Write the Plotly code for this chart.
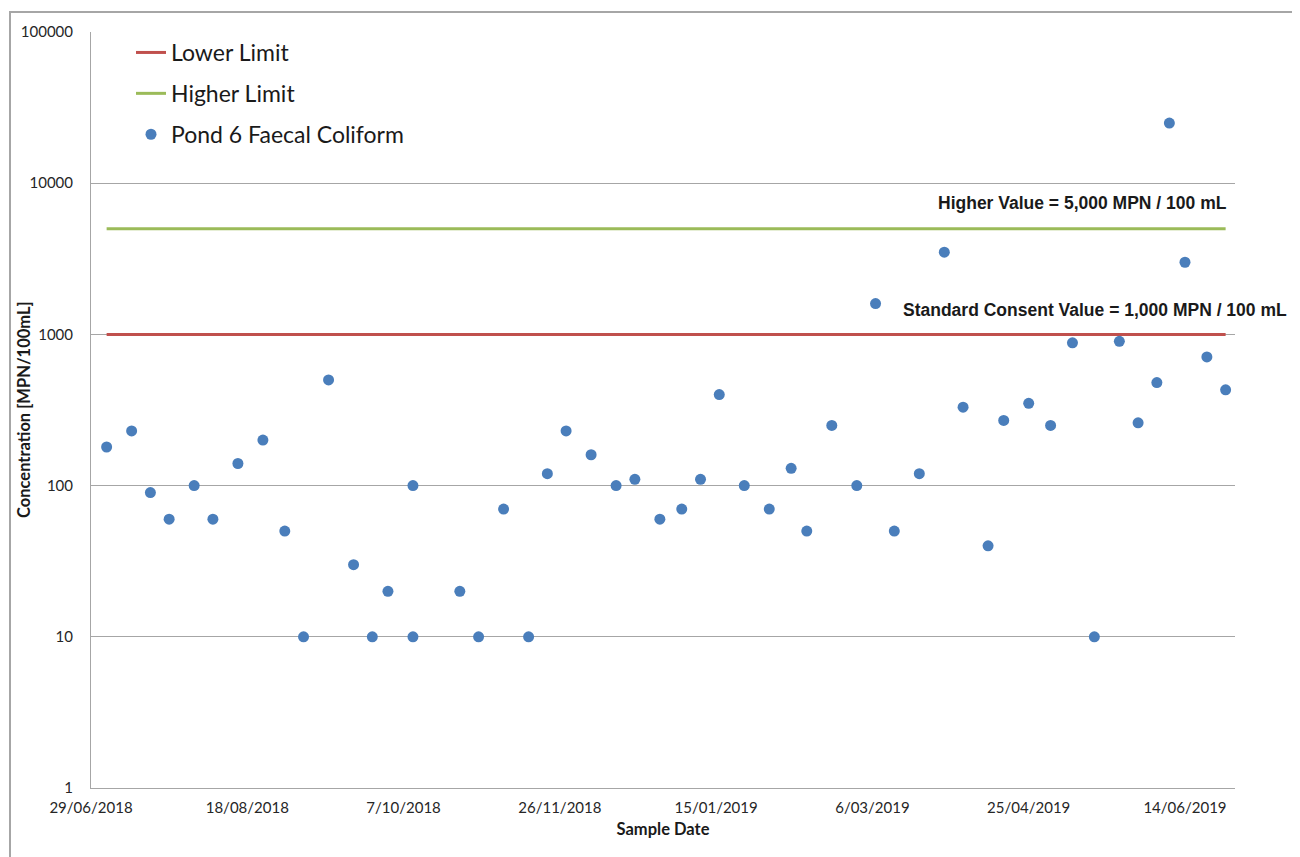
import plotly.graph_objects as go

# ---- data ----
sample_dates = [
    "2018-07-04", "2018-07-12", "2018-07-18", "2018-07-24", "2018-08-01", "2018-08-07",
    "2018-08-15", "2018-08-23", "2018-08-30", "2018-09-05", "2018-09-13", "2018-09-21",
    "2018-09-27", "2018-10-02", "2018-10-10", "2018-10-10", "2018-10-25", "2018-10-31",
    "2018-11-08", "2018-11-16", "2018-11-22", "2018-11-28", "2018-12-06", "2018-12-14",
    "2018-12-20", "2018-12-28", "2019-01-04", "2019-01-10", "2019-01-16", "2019-01-24",
    "2019-02-01", "2019-02-08", "2019-02-13", "2019-02-21", "2019-03-01", "2019-03-07",
    "2019-03-13", "2019-03-21", "2019-03-29", "2019-04-04", "2019-04-12", "2019-04-17",
    "2019-04-25", "2019-05-02", "2019-05-09", "2019-05-16", "2019-05-24", "2019-05-30",
    "2019-06-05", "2019-06-09", "2019-06-14", "2019-06-21", "2019-06-27",
]
coliform = [
    180, 230, 90, 60, 100, 60,
    140, 200, 50, 10, 500, 30,
    10, 20, 100, 10, 20, 10,
    70, 10, 120, 230, 160, 100,
    110, 60, 70, 110, 400, 100,
    70, 130, 50, 250, 100, 1600,
    50, 120, 3500, 330, 40, 270,
    350, 250, 880, 10, 900, 260,
    480, 25000, 3000, 710, 430,
]
limit_dates = ["2018-07-04", "2019-06-27"]
lower_limit = [1000, 1000]
higher_limit = [5000, 5000]

x_tick_vals = ["2018-06-29", "2018-08-18", "2018-10-07", "2018-11-26",
               "2019-01-15", "2019-03-06", "2019-04-25", "2019-06-14"]
x_tick_text = ["29/06/2018", "18/08/2018", "7/10/2018", "26/11/2018",
               "15/01/2019", "6/03/2019", "25/04/2019", "14/06/2019"]
y_tick_vals = [1, 10, 100, 1000, 10000, 100000]
y_tick_text = ["1", "10", "100", "1000", "10000", "100000"]

RED = "#c0504d"
GREEN = "#9bbb59"
BLUE = "#4a7ebb"
GRID = "#a6a6a6"
FONT = "Lato, 'Open Sans', sans-serif"
ARIAL = "'Liberation Sans', Arial, sans-serif"

fig = go.Figure()
fig.add_trace(go.Scatter(x=limit_dates, y=lower_limit, mode="lines", name="Lower Limit",
                         line=dict(color=RED, width=3), legendgroup="a"))
fig.add_trace(go.Scatter(x=limit_dates, y=higher_limit, mode="lines", name="Higher Limit",
                         line=dict(color=GREEN, width=3), legendgroup="b"))
fig.add_trace(go.Scatter(x=sample_dates, y=coliform, mode="markers", name="Pond 6 Faecal Coliform",
                         marker=dict(color=BLUE, size=11, line=dict(width=0)), legendgroup="c"))

# page has an 8px body margin: figure drawn at offset (8, 8) in the window
OFF = 8
W, H = 1300 - OFF, 857 - OFF
L, T = 91 - OFF, 32 - OFF
pw, ph = 1144, 756
R, B = W - L - pw, H - T - ph

def px_x(sx):
    return (sx - OFF - L) / pw

def px_y(sy):
    return (T + ph - (sy - OFF)) / ph

fig.update_layout(
    width=W, height=H,
    margin=dict(l=L, r=R, t=T, b=B, autoexpand=False),
    paper_bgcolor="white", plot_bgcolor="white",
    font=dict(family=FONT, color="#262626", size=15),
    showlegend=True,
    legend=dict(x=px_x(131), y=px_y(31), xanchor="left", yanchor="top",
                font=dict(size=23, family=FONT, color="#1a1a1a"),
                bgcolor="rgba(0,0,0,0)", traceorder="grouped", tracegroupgap=8,
                itemwidth=30),
)

fig.update_xaxes(
    type="date", range=["2018-06-29", "2019-06-30"],
    tickvals=x_tick_vals, ticktext=x_tick_text,
    showgrid=False, zeroline=False,
    showline=True, linecolor=GRID, linewidth=1,
    ticks="", ticklabelstandoff=6,
    tickfont=dict(size=15, family=FONT, color="#262626"),
    title=dict(text="<b>Sample Date</b>", font=dict(size=16.5, family=FONT, color="#1a1a1a"), standoff=8),
)
fig.update_yaxes(
    type="log", range=[0, 5],
    tickvals=y_tick_vals, ticktext=y_tick_text,
    showgrid=True, gridcolor=GRID, gridwidth=1,
    showline=True, linecolor=GRID, linewidth=1,
    zeroline=False, ticks="", ticklabelstandoff=14,
    tickfont=dict(size=15, family=FONT, color="#262626"),
)

# y-axis title
fig.add_annotation(x=px_x(24), xref="paper", y=0.5, yref="paper",
                   text="<b>Concentration [MPN/100mL]</b>", showarrow=False, textangle=-90,
                   xanchor="center", yanchor="middle",
                   font=dict(size=16.5, family=FONT, color="#1a1a1a"))

# annotations tied to the limit values
fig.add_annotation(x=px_x(1229), xref="paper", y=3.69897, yref="y",
                   text="<b>Higher Value = 5,000 MPN / 100 mL</b>", showarrow=False,
                   xanchor="right", yanchor="middle", yshift=26,
                   font=dict(family=ARIAL, size=17.5, color="#1a1a1a"))
fig.add_annotation(x=px_x(1289), xref="paper", y=3.0, yref="y",
                   text="<b>Standard Consent Value = 1,000 MPN / 100 mL</b>", showarrow=False,
                   xanchor="right", yanchor="middle", yshift=24,
                   font=dict(family=ARIAL, size=17.5, color="#1a1a1a"))

# outer chart border
fig.add_shape(type="rect", xref="paper", yref="paper",
              x0=px_x(10), x1=px_x(1330),
              y0=px_y(880), y1=px_y(12),
              line=dict(color="#a6a6a6", width=2), fillcolor="rgba(0,0,0,0)", layer="below")

fig.write_html("out.html")
